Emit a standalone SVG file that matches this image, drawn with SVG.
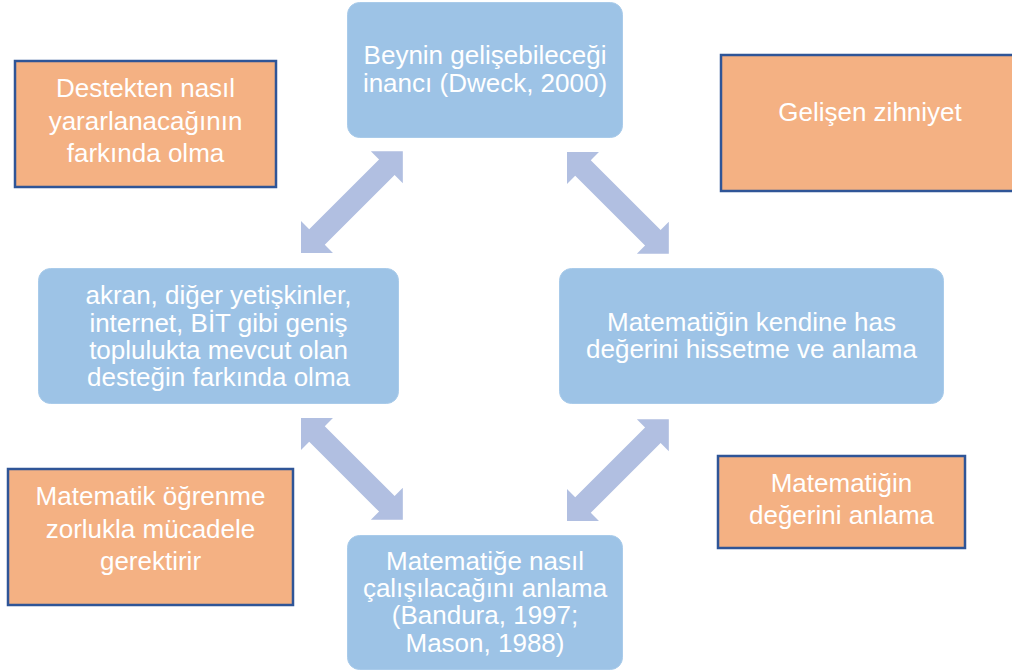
<svg xmlns="http://www.w3.org/2000/svg" width="1012" height="672" viewBox="0 0 1012 672">
<style>
.node{fill:#9DC3E6;stroke:#A9CBEA;stroke-width:1}
.note{fill:#F4B183;stroke:#2F5597;stroke-width:2.5}
.t{font-family:"Liberation Sans",Arial,sans-serif;font-size:26px;fill:#FFFFFF;text-anchor:middle}
.arr{fill:#B1BFE1}
</style>
<defs>
<polygon id="dbl" points="0,0 22.6,-22.6 22.6,-11 121.4,-11 121.4,-22.6 144,0 121.4,22.6 121.4,11 22.6,11 22.6,22.6"/>
</defs>
<rect width="1012" height="672" fill="#FFFFFF"/>
<g id="connectors">
<use href="#dbl" class="arr" transform="translate(301,253) rotate(-45)"/>
<use href="#dbl" class="arr" transform="translate(567,152) rotate(45)"/>
<use href="#dbl" class="arr" transform="translate(301,418) rotate(45)"/>
<use href="#dbl" class="arr" transform="translate(567,521) rotate(-45)"/>
</g>
<g id="n-top">
<rect class="node" x="347.5" y="2.5" width="275" height="135" rx="12"/>
<text class="t" x="485" y="64">Beynin gelişebileceği</text>
<text class="t" x="485" y="92">inancı (Dweck, 2000)</text>
</g>
<g id="n-left">
<rect class="node" x="38.5" y="268.5" width="360" height="135" rx="12"/>
<text class="t" x="218.5" y="304">akran, diğer yetişkinler,</text>
<text class="t" x="218.5" y="332">internet, BİT gibi geniş</text>
<text class="t" x="218.5" y="359">toplulukta mevcut olan</text>
<text class="t" x="218.5" y="386">desteğin farkında olma</text>
</g>
<g id="n-right">
<rect class="node" x="559.5" y="268.5" width="384" height="135" rx="12"/>
<text class="t" x="751.5" y="331">Matematiğin kendine has</text>
<text class="t" x="751.5" y="358">değerini hissetme ve anlama</text>
</g>
<g id="n-bottom">
<rect class="node" x="347.5" y="535.5" width="275" height="134" rx="12"/>
<text class="t" x="485" y="570">Matematiğe nasıl</text>
<text class="t" x="485" y="597">çalışılacağını anlama</text>
<text class="t" x="485" y="624">(Bandura, 1997;</text>
<text class="t" x="485" y="652">Mason, 1988)</text>
</g>
<g id="o-tl">
<rect class="note" x="15" y="61" width="261" height="126"/>
<text class="t" x="145.5" y="97">Destekten nasıl</text>
<text class="t" x="145.5" y="129.5">yararlanacağının</text>
<text class="t" x="145.5" y="162">farkında olma</text>
</g>
<g id="o-tr">
<rect class="note" x="721" y="55" width="300" height="136"/>
<text class="t" x="870" y="121">Gelişen zihniyet</text>
</g>
<g id="o-bl">
<rect class="note" x="8" y="469" width="285" height="136"/>
<text class="t" x="150.5" y="505">Matematik öğrenme</text>
<text class="t" x="150.5" y="537.5">zorlukla mücadele</text>
<text class="t" x="150.5" y="570">gerektirir</text>
</g>
<g id="o-br">
<rect class="note" x="718" y="456" width="247" height="92"/>
<text class="t" x="841.5" y="492">Matematiğin</text>
<text class="t" x="841.5" y="524">değerini anlama</text>
</g>
</svg>
